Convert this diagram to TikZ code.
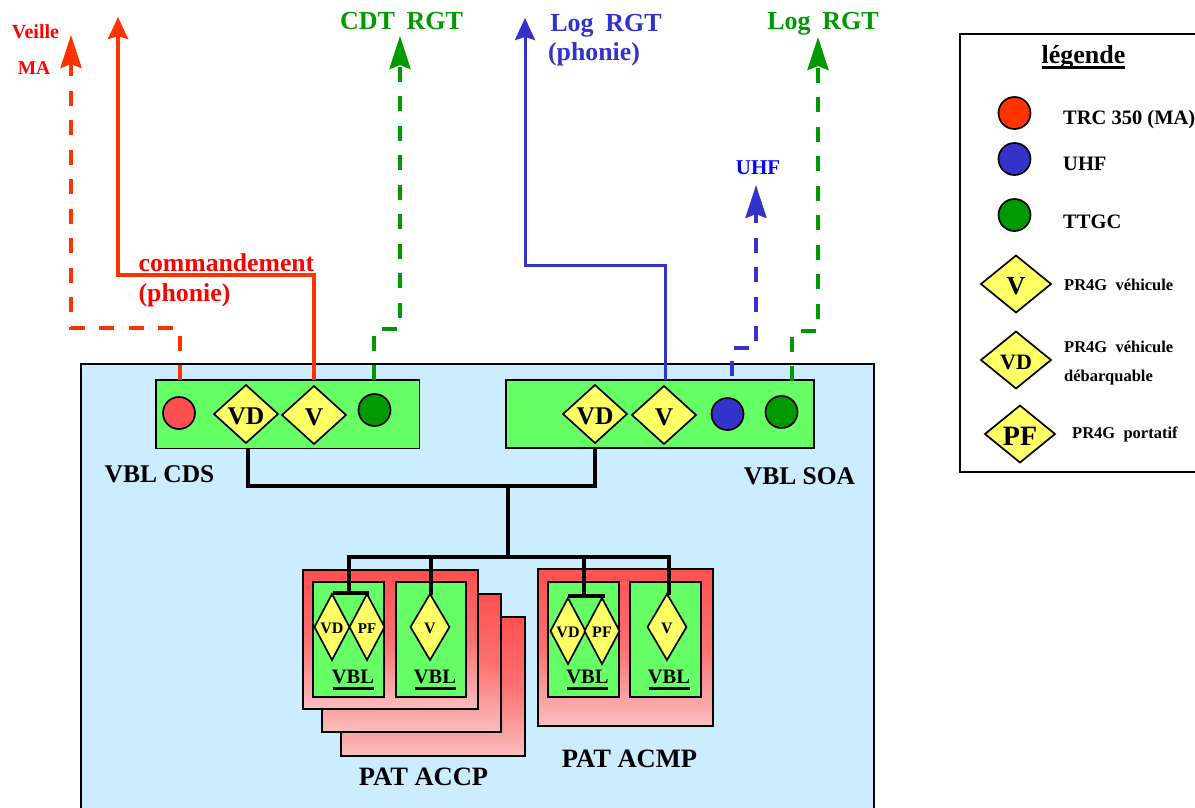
\documentclass[tikz,border=0pt]{standalone}
\usepackage{fontspec}
\setmainfont{Liberation Serif}
\usetikzlibrary{arrows.meta,shapes.geometric}
\definecolor{bgblue}{RGB}{204,236,255}
\definecolor{vgreen}{RGB}{102,255,102}
\definecolor{dyellow}{RGB}{255,255,102}
\definecolor{cred}{RGB}{255,51,0}
\definecolor{pred}{RGB}{255,80,80}
\definecolor{ppink}{RGB}{250,190,190}
\definecolor{cblue}{RGB}{51,51,204}
\definecolor{cgreen}{RGB}{0,153,0}
\definecolor{tred}{RGB}{255,0,0}
\definecolor{tblue}{RGB}{0,0,255}
\newcommand{\fs}[1]{\fontsize{#1}{#1}\selectfont\bfseries}
\tikzset{
  pat/.style={draw=black,line width=1.7pt,top color=pred,bottom color=ppink,middle color=pred!70!ppink,inner sep=0pt},
  vbl/.style={draw=black,line width=1.7pt,fill=vgreen,inner sep=0pt},
  dia/.style={diamond,draw=black,line width=1.7pt,fill=dyellow,inner sep=0pt,outer sep=0pt},
  radio/.style={circle,draw=black,line width=1.7pt,inner sep=0pt,minimum size=32pt},
  lab/.style={inner sep=0pt,anchor=base},
  labw/.style={inner sep=0pt,anchor=base west},
  wire/.style={line width=3.5pt,draw=black},
  sol/.style={line width=4pt},
  das/.style={line width=4pt,dash pattern=on 15pt off 14.5pt},
  tip/.style={-{Stealth[length=33pt,width=21pt,inset=4pt]}},
  tipb/.style={-{Stealth[length=22pt,width=20pt,inset=3pt]}},
}
\newcommand{\rhomb}[7]{\node[dia,minimum width=#4,minimum height=#5] (#1) at (#2,#3) {\smash{\makebox[0pt]{\fs{#6}\raisebox{-.42em}{#7}}}};}
\begin{document}
\begin{tikzpicture}[x=1pt,y=-1pt]
\useasboundingbox (0,0) rectangle (1195,807);
% zone
\path[fill=bgblue,draw=black,line width=1.7pt] (81,820) -- (81,364) -- (874,364) -- (874,820);
% bars
\node[vbl,minimum width=263.5pt,minimum height=68.5pt] (cds) at (287.75,414.25) {};
\node[vbl,minimum width=308pt,minimum height=68pt] (soa) at (660,414) {};
% connector ends
\coordinate (rA) at (180,380); \coordinate (rB) at (314,380); \coordinate (gA) at (374,380);
\coordinate (bA) at (665,380); \coordinate (bB) at (732,376); \coordinate (gB) at (792,381);
\coordinate (rAe) at (71,35); \coordinate (rBe) at (118,17); \coordinate (gAe) at (400,36);
\coordinate (bAe) at (525,18); \coordinate (bBe) at (756,185); \coordinate (gBe) at (818,37);
\draw[das,cred,tip] (rA) -- (180,328) -- (71,328) -- (rAe);
\draw[sol,cred,tipb] (rB) -- (314,275) -- (118,275) -- (rBe);
\draw[das,cgreen,tip] (gA) -- (374,329) -- (400,329) -- (gAe);
\draw[sol,line width=3pt,cblue,tipb] (bA) -- (665,265) -- (525,265) -- (bAe);
\draw[das,cblue,tip] (bB) -- (732,348) -- (756,348) -- (bBe);
\draw[das,cgreen,tip] (gB) -- (792,331) -- (818,331) -- (gBe);
% devices
\node[radio,fill=pred] (c1) at (179,413) {};
\rhomb{d1}{246}{414}{64pt}{58pt}{25.5}{VD}
\rhomb{d2}{314}{415}{64pt}{58pt}{25.5}{V}
\node[radio,fill=cgreen] (c2) at (374.5,410) {};
\rhomb{d3}{595}{414}{64pt}{58pt}{25.5}{VD}
\rhomb{d4}{664}{415}{64pt}{58pt}{25.5}{V}
\node[radio,fill=cblue] (c3) at (727.5,414) {};
\node[radio,fill=cgreen] (c4) at (781.5,412) {};
\node[lab] (tcds) at (159.5,482.5) {\fs{25.5}VBL CDS};
\node[lab] (tsoa) at (799.5,484) {\fs{25.5}VBL SOA};
% pat boxes
\node[pat,minimum width=184pt,minimum height=139pt] (p3) at (433,686.5) {};
\node[pat,minimum width=179pt,minimum height=138pt] (p2) at (411.5,663) {};
\node[pat,minimum width=175pt,minimum height=139pt] (p1) at (390.5,639.5) {};
\node[pat,minimum width=175pt,minimum height=157pt] (p4) at (625.5,647.5) {};
\node[vbl,minimum width=71pt,minimum height=115pt] (a1) at (348.5,639.5) {};
\node[vbl,minimum width=70pt,minimum height=115pt] (a2) at (431,639.5) {};
\node[vbl,minimum width=71pt,minimum height=115pt] (b1) at (583.5,639.5) {};
\node[vbl,minimum width=71pt,minimum height=115pt] (b2) at (665.5,639.5) {};
\rhomb{e1}{332}{627}{35pt}{66pt}{16}{VD}
\rhomb{e2}{367}{627}{35pt}{66pt}{15}{PF}
\rhomb{e3}{430}{627}{39pt}{66pt}{16}{V}
\rhomb{f1}{568}{631}{35pt}{66pt}{16}{VD}
\rhomb{f2}{602}{631}{35pt}{66pt}{16}{PF}
\rhomb{f3}{667}{627}{39pt}{66pt}{16}{V}
\foreach \n/\x in {la/353,lb/435,lc/587.5,ld/669}{
  \node[lab] (\n) at (\x,683) {\fs{20.5}VBL};
  \draw[line width=3pt] (\x-20.5,688) -- (\x+20.5,688);
}
\node[lab] (tac) at (423.5,785) {\fs{26.5}PAT ACCP};
\node[lab] (tam) at (629.5,767.5) {\fs{26.5}PAT ACMP};
% wiring
\coordinate (hub) at (508,484);
\coordinate (bus) at (508,559);
\draw[wire] (248,449) |- (595,486) -- (595,448);
\draw[wire] (hub) -- (bus);
\draw[wire] (349,593) |- (669,557) -- (669,595);
\draw[wire] (431,557) -- (431,595);
\draw[wire] (584,557) -- (584,596);
\draw[wire] (333,593) -- (369,593);
\draw[wire] (568,596) -- (605,596);
% top labels
\node[lab,text=tred] (t1) at (35.5,38) {\fs{20}Veille};
\node[lab,text=tred] (t2) at (34,74) {\fs{19.5}MA};
\node[lab,text=cgreen] (t3) at (401.5,29) {\fs{26}CDT\hspace{.45em}RGT};
\node[lab,text=cblue] (t4) at (606,31) {\fs{26}Log\hspace{.45em}RGT};
\node[lab,text=cblue] (t5) at (594,60) {\fs{25.8}(phonie)};
\node[lab,text=cgreen] (t6) at (823,29) {\fs{26}Log\hspace{.45em}RGT};
\node[lab,text=tred] (t7) at (226.5,271) {\fs{25.7}commandement};
\node[lab,text=tred] (t8) at (184.5,301) {\fs{25.8}(phonie)};
\node[lab,text=tblue] (t9) at (758,174) {\fs{21}UHF};
% legend
\node[draw=black,line width=1.7pt,fill=white,minimum width=240pt,minimum height=438pt,inner sep=0pt] (leg) at (1080,253) {};
\node[lab] (lt) at (1083.5,63) {\fs{26}légende};
\coordinate (ula) at (1042,67); \coordinate (ulb) at (1125,67);
\draw[line width=3pt] (ula) -- (ulb);
\node[radio,fill=cred] (l1) at (1014.5,113) {};
\node[radio,fill=cblue] (l2) at (1014.5,159) {};
\node[radio,fill=cgreen] (l3) at (1014.5,215) {};
\rhomb{l4}{1016}{284}{70pt}{57pt}{26}{V}
\rhomb{l5}{1016}{360}{70pt}{57pt}{22}{VD}
\rhomb{l6}{1020}{434}{70pt}{57pt}{28}{PF}
\node[labw] (x1) at (1063,124) {\fs{20.5}TRC 350 (MA)};
\node[labw] (x2) at (1063,170) {\fs{20.5}UHF};
\node[labw] (x3) at (1063,228) {\fs{20.5}TTGC};
\node[labw] (x4) at (1064,290) {\fs{16.5}PR4G\hspace{.5em}véhicule};
\node[labw] (x5) at (1064,352) {\fs{16.5}PR4G\hspace{.5em}véhicule};
\node[labw] (x6) at (1064,381) {\fs{16.5}débarquable};
\node[labw] (x7) at (1072,438) {\fs{16.5}PR4G\hspace{.5em}portatif};
\end{tikzpicture}
\end{document}
